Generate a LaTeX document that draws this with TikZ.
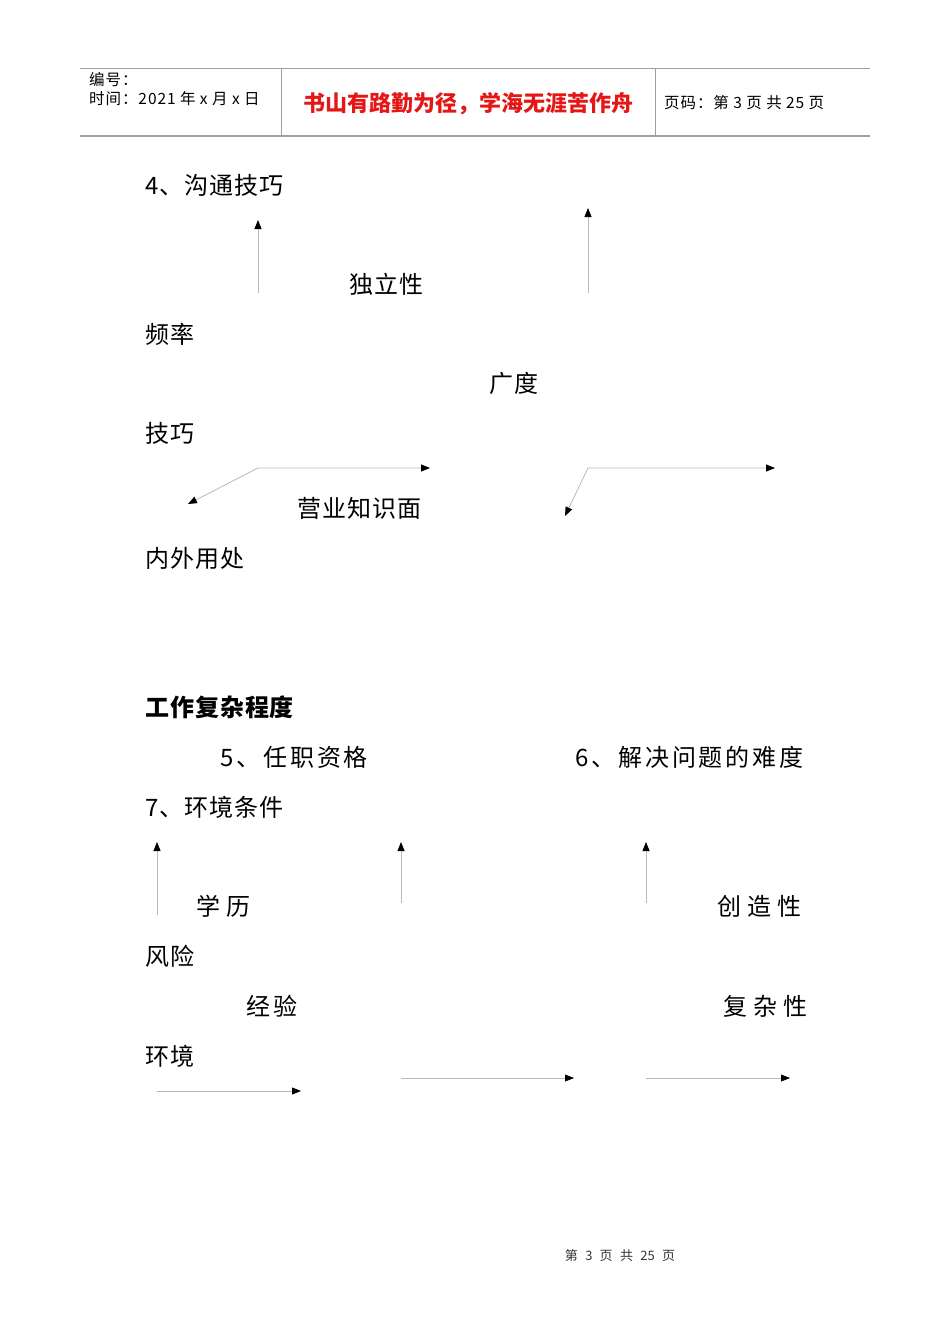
\documentclass[tikz,border=0pt]{standalone}
\usepackage{fontspec}
\setmainfont{Liberation Sans}
\newfontfamily\cjk{Noto Sans CJK SC}
\newfontfamily\cjkwide[WordSpace=2.5]{Noto Sans CJK SC}
\usetikzlibrary{arrows.meta, positioning}
\definecolor{mottored}{RGB}{228,22,22}

\begin{document}
\begin{tikzpicture}[x=1pt, y=-1pt, node distance = 0pt]
  \tikzstyle{body} = [anchor=west, inner sep=0pt, font=\cjk\fontsize{24}{24}\selectfont\addfontfeature{LetterSpace=4}]
  \tikzstyle{spaced} = [body, font=\cjk\fontsize{24}{24}\selectfont\addfontfeature{LetterSpace=12}]
  \tikzstyle{head} = [anchor=west, inner sep=0pt, font=\cjk\fontsize{15.5}{16}\selectfont\addfontfeature{LetterSpace=6}]
  \tikzstyle{rule} = [draw=gray!75, line width=0.8pt]
  \tikzstyle{connector} = [draw=gray!55, line width=0.8pt, -{Triangle[black, length=9pt, width=7pt]}]
  \tikzstyle{twoway} = [draw=gray!55, line width=0.8pt, {Triangle[black, length=9pt, width=7pt]}-{Triangle[black, length=9pt, width=7pt]}]
  \useasboundingbox (0,0) rectangle (950,1344);
  \coordinate (topL) at (80,68);
  \coordinate (topR) at (870,68);
  \coordinate (botL) at (80,136);
  \coordinate (botR) at (870,136);
  \coordinate (divA) at (281,68);
  \coordinate (divB) at (655,68);
  \draw [rule] (topL) -- (topR);
  \draw [rule, line width=1.6pt] (botL) -- (botR);
  \draw [rule] (divA) -- (divA |- botL);
  \draw [rule] (divB) -- (divB |- botL);
  \node [head] (serial) at (89,80) {编号：};
  \node [head] (date) at (89,99) {时间：2021 年 x 月 x 日};
  \node [font=\cjk\bfseries\fontsize{22}{23}\selectfont, text=mottored] (motto) at (468,104) {书山有路勤为径，学海无涯苦作舟};
  \node [head] (pageno) at (664,103) {页码：第 3 页 共 25 页};
  \node [body] (title4) at (145,185) {4、沟通技巧};
  \node [body] (indep) at (349,284) {独立性};
  \node [body] (freq) at (145,334) {频率};
  \node [body] (breadth) at (489,383) {广度};
  \node [body] (skill) at (145,433) {技巧};
  \node [body] (knowledge) at (297,508) {营业知识面};
  \node [body] (scope) at (145,558) {内外用处};
  \coordinate (upAs) at (258,293);
  \coordinate (upAe) at (258,220);
  \coordinate (upBs) at (588,293);
  \coordinate (upBe) at (588,208);
  \coordinate (bendAl) at (188,504);
  \coordinate (bendA) at (258,468);
  \coordinate (bendAr) at (430,468);
  \coordinate (bendBl) at (565,516);
  \coordinate (bendB) at (588,468);
  \coordinate (bendBr) at (775,468);
  \path [connector] (upAs) -- (upAe);
  \path [connector] (upBs) -- (upBe);
  \path [twoway] (bendAl) -- (bendA) -- (bendAr);
  \path [twoway] (bendBl) -- (bendB) -- (bendBr);
  \node [body, font=\cjk\bfseries\fontsize{24}{24}\selectfont\addfontfeature{LetterSpace=4}] (complex) at (145,707) {工作复杂程度};
  \node [spaced] (title5) at (220,757) {5、任职资格};
  \node [spaced] (title6) at (575,757) {6、解决问题的难度};
  \node [body] (title7) at (145,807) {7、环境条件};
  \node [body] (edu) at (196,906) {学 历};
  \node [body] (create) at (717,906) {创 造 性};
  \node [body] (risk) at (145,956) {风险};
  \node [spaced] (exp) at (246,1006) {经验};
  \node [body] (complexity) at (723,1006) {复 杂 性};
  \node [body] (env) at (145,1056) {环境};
  \coordinate (upCs) at (157,915);
  \coordinate (upCe) at (157,842);
  \coordinate (upDs) at (401,903);
  \coordinate (upDe) at (401,842);
  \coordinate (upEs) at (646,903);
  \coordinate (upEe) at (646,842);
  \path [connector] (upCs) -- (upCe);
  \path [connector] (upDs) -- (upDe);
  \path [connector] (upEs) -- (upEe);
  \coordinate (rtCs) at (157,1091);
  \coordinate (rtCe) at (301,1091);
  \coordinate (rtDs) at (401,1078);
  \coordinate (rtDe) at (574,1078);
  \coordinate (rtEs) at (646,1078);
  \coordinate (rtEe) at (790,1078);
  \path [connector] (rtCs) -- (rtCe);
  \path [connector] (rtDs) -- (rtDe);
  \path [connector] (rtEs) -- (rtEe);
  \node [font=\cjkwide\fontsize{13}{14}\selectfont, text=black!80] (footer) at (620,1256) {第 3 页 共 25 页};
\end{tikzpicture}
\end{document}
